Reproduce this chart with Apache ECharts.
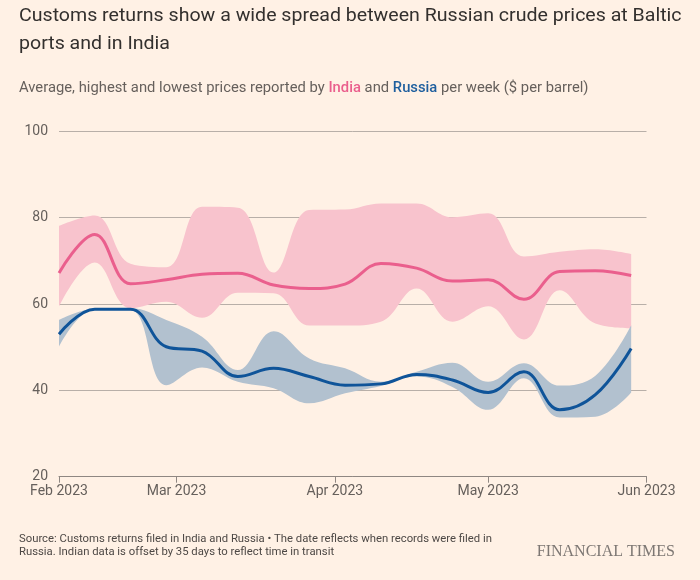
<!DOCTYPE html>
<html>
<head>
<meta charset="utf-8">
<script src="https://cdn.jsdelivr.net/npm/echarts@6/dist/echarts.min.js"></script>
<style>
html,body{margin:0;padding:0;background:#fff1e5;}
#chart{width:700px;height:580px;}
</style>
</head>
<body>
<div id="chart"></div>
<script>
// ---- Data (weekly) ----
const weeks = ['2023-02-06','2023-02-13','2023-02-20','2023-02-27','2023-03-06','2023-03-13','2023-03-20','2023-03-27',
  '2023-04-03','2023-04-10','2023-04-17','2023-04-24','2023-05-01','2023-05-08','2023-05-15','2023-05-22','2023-05-29'];
const indiaAvg  = [67.2, 76.1, 64.7, 65.6, 66.9, 67.1, 64.4, 63.6, 64.6, 69.4, 68.3, 65.3, 65.6, 61.1, 67.5, 67.7, 66.6];
const indiaHigh = [78.1, 80.5, 69.3, 68.5, 82.5, 82.3, 67.3, 81.8, 81.9, 83.3, 83.3, 80.1, 81.0, 71.0, 72.1, 72.7, 71.6];
const indiaLow  = [59.4, 69.6, 59.0, 60.5, 56.8, 62.6, 62.5, 55.0, 55.0, 55.9, 63.6, 55.9, 59.5, 51.8, 63.2, 55.5, 54.4];
const russiaAvg  = [53.0, 58.8, 58.8, 50.1, 49.1, 43.2, 45.1, 43.2, 41.2, 41.5, 43.7, 42.4, 39.5, 44.3, 35.5, 39.0, 49.7];
const russiaHigh = [56.3, 58.9, 59.0, 56.3, 52.4, 44.7, 53.7, 47.4, 45.1, 42.0, 44.3, 46.4, 42.0, 46.3, 41.1, 43.4, 55.1];
const russiaLow  = [50.1, 58.7, 58.6, 41.2, 45.3, 42.0, 40.5, 37.0, 39.3, 41.0, 43.2, 40.8, 35.5, 42.8, 33.7, 33.9, 39.5];
const xTickDates  = ['2023-02-06','2023-03-01','2023-04-01','2023-05-01','2023-06-01'];
const xTickLabels = ['Feb 2023','Mar 2023','Apr 2023','May 2023','Jun 2023'];
const yMin = 20, yMax = 100, yStep = 20;

// ---- helpers ----
function ts(s){ const p = s.split('-').map(Number); return Date.UTC(p[0], p[1]-1, p[2]); }
const DAY = 86400000;
const t0 = ts(xTickDates[0]), t1 = ts(xTickDates[xTickDates.length-1]);
const tickDays = xTickDates.map(d => (ts(d) - t0) / DAY);
function pairs(vals){ return weeks.map((w,i)=>[ts(w), vals[i]]); }
function diffs(hi, lo){ return weeks.map((w,i)=>[ts(w), +(hi[i]-lo[i]).toFixed(2)]); }

const SM = 0.4;
const base = {type:'line', symbol:'none', smooth:SM, silent:true, animation:false, xAxisIndex:0};

const chart = echarts.init(document.getElementById('chart'), null, {renderer:'canvas'});
const FONT = 'Roboto, "Noto Sans", sans-serif';
const AXC = '#8f8782';

chart.setOption({
  backgroundColor:'#fff1e5',
  animation:false,
  grid:{left:59, right:53.5, top:131.3, bottom:103.3},
  xAxis:[
    { // data axis (time), hidden
      type:'time', min:t0, max:t1, position:'bottom',
      axisLine:{show:false}, axisTick:{show:false}, axisLabel:{show:false}, splitLine:{show:false}
    },
    { // visible axis: days since first tick
      type:'value', min:tickDays[0], max:tickDays[tickDays.length-1], position:'bottom', offset:0,
      axisLine:{show:true, onZero:false, lineStyle:{color:AXC, width:1}},
      axisTick:{show:true, length:6, lineStyle:{color:AXC}, customValues: tickDays},
      axisLabel:{customValues: tickDays, color:'#66605c', fontSize:14, fontFamily:FONT, margin:8,
        formatter:function(v){
          const i = tickDays.indexOf(Math.round(v));
          return i >= 0 ? xTickLabels[i] : '';
        }},
      splitLine:{show:false}
    }
  ],
  yAxis:{
    type:'value', min:yMin, max:yMax, interval:yStep,
    axisLine:{show:false}, axisTick:{show:false},
    axisLabel:{color:'#66605c', fontSize:14, fontFamily:FONT, margin:11},
    splitLine:{lineStyle:{color:'#b8afa8', width:1}}
  },
  series:[
    Object.assign({}, base, {name:'indiaLow', stack:'india', data:pairs(indiaLow), lineStyle:{opacity:0}, z:1}),
    Object.assign({}, base, {name:'indiaBand', stack:'india', data:diffs(indiaHigh, indiaLow), lineStyle:{opacity:0},
      areaStyle:{color:'#f8c3cd', opacity:1}, z:1}),
    Object.assign({}, base, {name:'russiaLow', stack:'russia', data:pairs(russiaLow), lineStyle:{opacity:0}, z:2}),
    Object.assign({}, base, {name:'russiaBand', stack:'russia', data:diffs(russiaHigh, russiaLow), lineStyle:{opacity:0},
      areaStyle:{color:'#b2c1cf', opacity:1}, z:2}),
    Object.assign({}, base, {name:'India', data:pairs(indiaAvg), lineStyle:{color:'#ea5f8d', width:3}, z:3}),
    Object.assign({}, base, {name:'Russia', data:pairs(russiaAvg), lineStyle:{color:'#0f5499', width:3}, z:4})
  ],
  graphic:[
    {type:'text', x:19, y:16.5, scaleX:1.03, style:{text:'Customs returns show a wide spread between Russian crude prices at Baltic',
      fill:'#33302e', fontSize:19, fontFamily:FONT, verticalAlign:'middle'}},
    {type:'text', x:19, y:44.5, scaleX:1.03, style:{text:'ports and in India', fill:'#33302e', fontSize:19, fontFamily:FONT, verticalAlign:'middle'}},
    {type:'text', x:19, y:88, scaleX:1.02, style:{
      text:'Average, highest and lowest prices reported by {i|India} and {r|Russia} per week ($ per barrel)',
      fill:'#66605c', fontSize:14.5, fontFamily:FONT, verticalAlign:'middle',
      rich:{i:{fill:'#ea5f8d', fontSize:14.5, fontFamily:FONT, fontWeight:500}, r:{fill:'#1f5f9e', fontSize:14.5, fontFamily:FONT, fontWeight:500}}}},
    {type:'text', x:19, y:539, scaleX:0.983, style:{text:'Source: Customs returns filed in India and Russia \u2022 The date reflects when records were filed in',
      fill:'#4d4845', fontSize:11.5, fontFamily:FONT, verticalAlign:'middle'}},
    {type:'text', x:19, y:552.5, scaleX:0.983, style:{text:'Russia. Indian data is offset by 35 days to reflect time in transit',
      fill:'#4d4845', fontSize:11.5, fontFamily:FONT, verticalAlign:'middle'}},
    {type:'text', x:675, y:552, style:{text:'FINANCIAL TIMES', fill:'#7d7773', fontSize:16, fontFamily:'"Liberation Serif", "DejaVu Serif", serif',
      align:'right', verticalAlign:'middle'}}
  ]
});
</script>
</body>
</html>
